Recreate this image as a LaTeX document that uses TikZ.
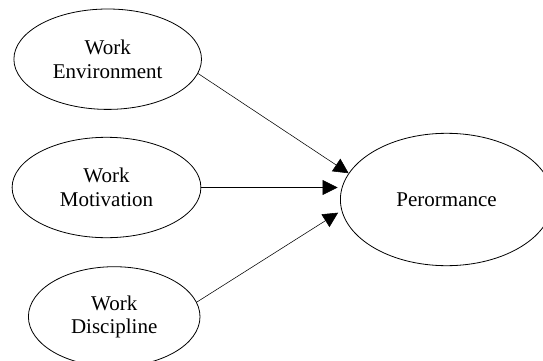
\documentclass[tikz,border=0pt]{standalone}
\usepackage{fontspec}
\setmainfont{Liberation Serif}
\usetikzlibrary{shapes.geometric,arrows.meta}
\begin{document}
\begin{tikzpicture}[x=1pt,y=-1pt,
  oval/.style={draw=black, line width=0.8pt, ellipse, inner sep=0pt, align=center,
    font=\fontsize{21}{23.5}\selectfont},
  link/.style={draw=black, line width=0.55pt, -{Triangle[length=15pt,width=15pt]}}]
\useasboundingbox (0,0) rectangle (543,361);
\node[oval, minimum width=187.6pt, minimum height=100.4pt] (ew) at (107.7,59.2) {Work\\Environment};
\node[oval, minimum width=188.8pt, minimum height=100.4pt] (wm) at (106.5,187.5) {Work\\Motivation};
\node[oval, minimum width=171.6pt, minimum height=100pt] (wd) at (114.2,316.7) {Work\\Discipline};
\node[oval, minimum width=212.4pt, minimum height=132.4pt] (pf) at (446.6,199.5) {Perormance};
\draw[link] (ew.-9) -- (pf.165.3);
\draw[link, shorten >=2.4pt] (wm.east) -- (wm.east -| pf.west);
\draw[link, shorten >=4pt] (wd.10) -- (pf.186.9);
\end{tikzpicture}
\end{document}
